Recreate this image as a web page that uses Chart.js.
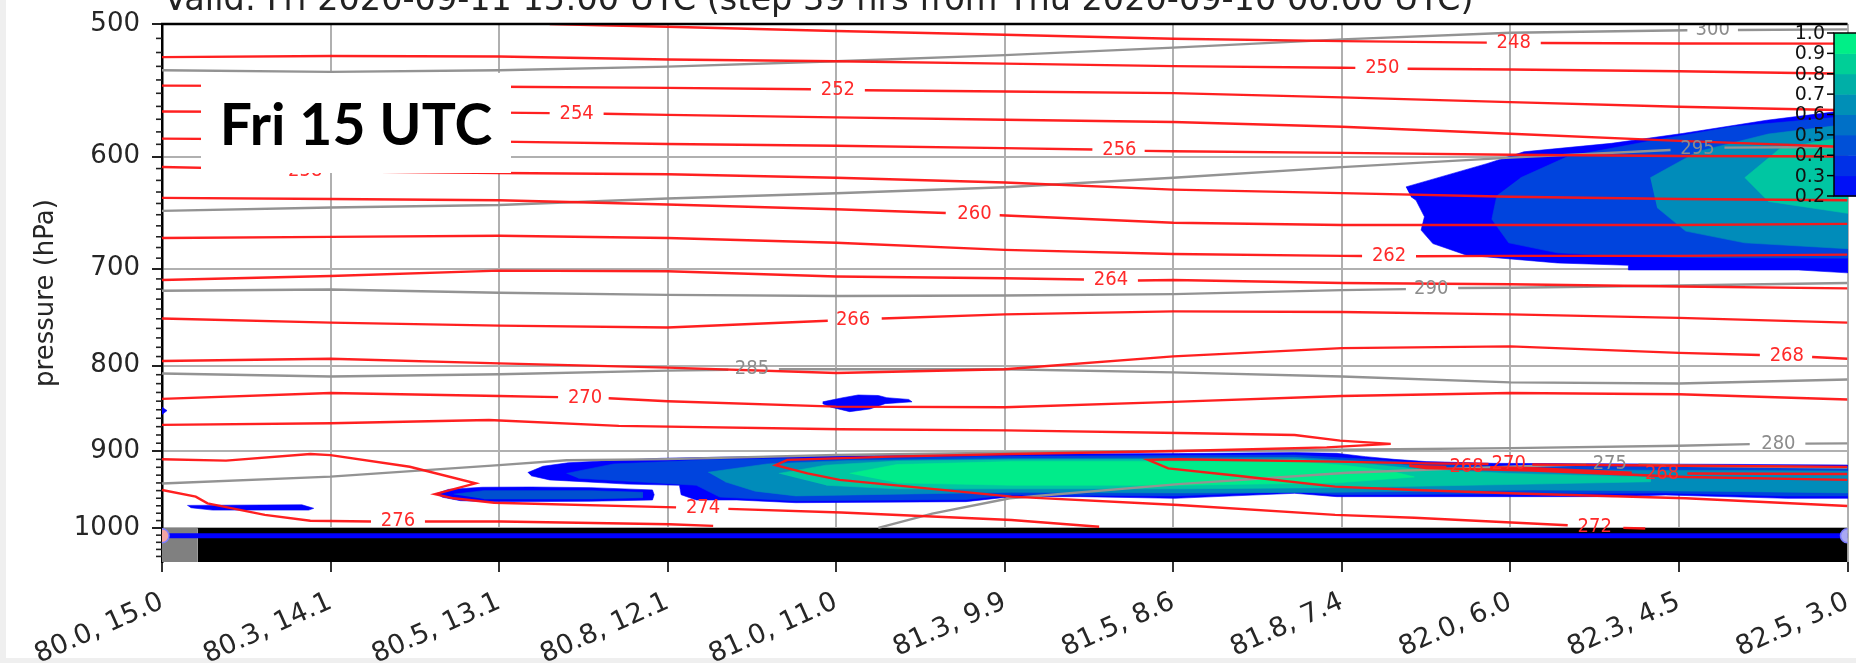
<!DOCTYPE html>
<html><head><meta charset="utf-8">
<script src="https://cdn.jsdelivr.net/npm/chart.js@4.4.1/dist/chart.umd.min.js"></script>
<style>
html,body{margin:0;padding:0;background:#fff;overflow:hidden;}
#wrap{position:relative;width:1856px;height:663px;overflow:hidden;}
#c{position:absolute;left:0;top:0;width:1856px;height:663px;}
#fri{position:absolute;left:201px;top:73px;width:310px;height:100px;background:#fff;color:#000;
 font-family:Lato,"Open Sans",sans-serif;font-weight:bold;font-size:57px;line-height:100px;text-align:center;}
</style></head><body>
<div id="wrap"><canvas id="c" width="1856" height="663"></canvas><div id="fri">Fri 15 UTC</div></div>
<script>
// ---------- axes ----------
const xLabels = ['80.0, 15.0','80.3, 14.1','80.5, 13.1','80.8, 12.1','81.0, 11.0','81.3, 9.9','81.5, 8.6','81.8, 7.4','82.0, 6.0','82.3, 4.5','82.5, 3.0'];
const yTicks = [500, 600, 700, 800, 900, 1000];
const cbTicks = [1.0, 0.9, 0.8, 0.7, 0.6, 0.5, 0.4, 0.3, 0.2];
const titleText = 'Valid: Fri 2020-09-11 15:00 UTC (step 39 hrs from Thu 2020-09-10 00:00 UTC)';

// ---------- isotherms (K): [section position, pressure hPa]; null = gap for inline label ----------
const t248 = [[2.3,500],[2.6,500.9],[3,501.9],[4,504.8],[5,507.5],[6,510.2],[7,511.9],[7.86,513.0],null,[8.18,513.2],[9,513.6],[10,513.7]];
const t250 = [[0,523.3],[1,522.5],[2,522.9],[3,525.0],[4,526.3],[5,528.0],[6,529.8],[7,531.0],[7.08,531.1],null,[7.39,531.7],[8,532.3],[9,533.6],[10,535.4]];
const t252 = [[0,544.2],[1,544.6],[2,545.1],[3,545.9],[3.85,547.0],null,[4.17,547.7],[5,548.6],[6,549.9],[7,553.1],[8,556.7],[9,560.3],[10,563.0]];
const t254 = [[0,563.9],[1,564.4],[2,564.8],[2.30,565.2],null,[2.62,565.7],[3,566.6],[4,568.5],[5,570.4],[6,572.2],[7,575.9],[8,581.5],[9,587.2],[10,592.2]];
const t256 = [[0,585.4],[1,586.3],[2,587.8],[3,589.7],[4,591.1],[5,593.1],[5.52,594.2],null,[5.83,595.3],[6,595.6],[7,597.0],[8,598.5],[9,599.5],[10,600.0]];
const t258 = [[0,608.7],[0.69,610.7],null,[1.01,612.2],[2,613.7],[3,614.8],[4,617.8],[5,621.8],[6,627.9],[7,631.0],[8,634.1],[9,636.1],[10,637.2]];
const t260 = [[0,635.1],[1,636.1],[2,637.2],[3,640.9],[4,645.1],[4.65,648.5],null,[4.97,650.4],[6,657.2],[7,659.3],[8,659.3],[9,659.3],[10,658.2]];
const t262 = [[0,671.2],[1,670.1],[2,669.0],[3,671.2],[4,675.6],[5,682.2],[6,686.1],[7,687.8],[7.12,688.0],null,[7.44,688.2],[8,687.8],[9,687.8],[10,686.7]];
const t264 = [[0,711.1],[1,707.1],[2,701.9],[3,702.5],[4,707.7],[5,709.4],[5.47,710.6],null,[5.79,711.5],[6,711.1],[7,714.0],[8,715.2],[9,717.5],[10,719.3]];
const t266 = [[0,749.7],[1,754.0],[2,757.1],[3,759.0],[3.95,752.1],null,[4.27,749.7],[5,745.5],[6,742.4],[7,743.0],[8,745.5],[9,749.1],[10,754.0]];
const t268 = [[0,794.9],[1,792.4],[2,797.5],[3,802.1],[4,808.0],[5,804.0],[6,789.8],[7,780.9],[8,779.0],[9,786.0],[9.48,788.4],null,[9.79,790.5],[10,792.4]];
const t270 = [[0,837.4],[1,830.6],[2,834.0],[2.35,835.4],null,[2.65,836.7],[3,840.1],[4,846.3],[5,847.0],[6,840.8],[7,834.0],[8,830.6],[9,832.0],[10,838.1]];
const t272 = [[0,867.9],[1,866.0],[1.94,862.0],[2.71,869.0],[4.03,873.0],[5.01,874.4],[6.13,877.9],[6.72,880.0],[6.99,886.9],[7.29,890.8],[6.91,895.1],[6.03,899.6],[5.04,903.4],[4.32,906.6],[3.71,910.7],[3.64,917.3],[3.83,927.8],[4.02,936.1],[5.04,957.9],[6.03,969.0],[6.96,982.2],[7.43,986.2],[8.34,996.4],null,[8.67,1000],[8.80,1000.8]];
const t274 = [[0,909.9],[0.38,911.6],[0.88,903.4],[1,904.7],[1.47,919.3],[1.86,940.6],[1.62,954.5],[1.73,960.1],[1.97,965.9],[3.05,972.2],null,[3.36,974.2],[4.03,979.0],[5.04,989.1],[5.56,998.4]];
const t276 = [[0,949.1],[0.2,957.9],[0.27,966.8],[0.61,982.2],[0.88,990.2],[1.24,991.3],null,[1.56,991.3],[2.01,991.3],[3.01,995.0],[3.27,997.2]];
const t270core = [[10,919.5],[9.04,918.0],[8.13,916.5],null,[7.87,915.8],[7.50,915.0],[6.96,912.8],[6.03,909.9],[5.85,910.7],[5.97,921.3],[6.38,930.8],[6.96,944.8],[7.43,949.1],[8.04,953.8],[9.04,960.1],[10,970.3]];
const t268core = [[10,928.5],[9.05,927.8],null,[8.72,927.0],[8.13,921.0],[7.88,920.0],null,[7.62,919.5],[7.50,918.8],[7.40,918.0],[7.50,921.0],[8.13,924.0],[9.04,932.3],[10,936.1]];
const tempLabels = [['248',8.02,513.1],['250',7.24,531.4],['252',4.01,547.3],['254',2.46,565.4],['256',5.68,594.8],['258',0.85,611.5],['260',4.82,649.4],['262',7.28,688.1],['264',5.63,711.0],['266',4.10,751.0],['268',9.64,789.5],['270',2.51,835.8],['272',8.50,998.0],['274',3.21,973.0],['276',1.40,990.0],['270',7.99,915.5],['268',7.74,919.7],['268',8.90,928.0]];

// ---------- potential temperature (K) ----------
const th300 = [[0,532.8],[1,534.0],[2,532.8],[3,530.2],[4,526.3],[5,521.9],[6,516.5],[7,510.7],[8,506.1],[9.05,504.3],null,[9.35,504.1],[10,503.7]];
const th295 = [[0,646.6],[1,643.5],[2,641.4],[3,635.7],[4,631.1],[5,625.9],[6,617.8],[7,608.8],[8,600.9],[8.95,594.6],null,[9.27,592.7],[10,592.2]];
const th290 = [[0,721.6],[1,720.4],[2,723.7],[3,725.7],[4,726.9],[5,726.3],[6,725.0],[7,721.0],[7.38,720.0],null,[7.69,718.9],[8,718.7],[9,716.4],[10,714.0]];
const th285 = [[0,808.7],[1,812.0],[2,809.4],[3,805.4],[3.36,804.5],null,[3.66,804.0],[4,804.0],[5,804.0],[6,807.4],[7,812.0],[8,818.6],[9,819.9],[10,815.3]];
const th280 = [[0,940.7],[1,931.9],[2,917.2],[2.40,911.2],[3,909.7],[4,904.6],[5,901.7],[6,899.6],[7,898.1],[8,896.0],[9,893.1],[9.42,891.1],null,[9.75,890.5],[10,890.2]];
const th275 = [[4.25,1000],[4.57,980.5],[5.03,960.1],[6.03,941.5],[7.03,927.0],[8.04,918.8],[8.45,916.5],null,[8.76,916.5],[9.04,918.0],[10,920.3]];
const thetaLabels = [['300',9.2,504.2],['295',9.11,593.6],['290',7.53,719.4],['285',3.50,803.5],['280',9.59,890.8],['275',8.59,915.0]];

// ---------- cloud fraction regions (outline of each level) ----------
const upper02 = [[7.38,625.6],[7.52,619.8],[7.86,605.9],[8.08,596.1],[8.60,589.2],[9.02,581.3],[9.52,570.8],[9.84,565.6],[10,563.0],[10,704.1],[9.71,701.3],[8.70,701.3],[8.70,696.8],[8.28,694.6],[7.74,687.2],[7.54,676.3],[7.47,663.9],[7.49,651.8],[7.44,637.2],[7.41,634.1]];
const upper04 = [[8.06,617.8],[8.34,600.0],[8.83,587.3],[9.32,575.9],[10,567.7],[10,690.0],[9.18,689.5],[8.70,688.5],[8.28,685.0],[7.99,675.6],[7.89,654.0],[7.92,633.0]];
const upper06 = [[8.83,617.8],[9.11,596.0],[9.53,581.7],[10,574.0],[10,681.1],[9.39,675.6],[9.04,664.8],[8.87,643.6]];
const upper08 = [[9.39,617.8],[9.60,593.4],[10,583.6],[10,648.7],[9.53,638.2]];
const band02 = [[2.17,926.7],[2.26,918.7],[2.41,914.3],[2.75,910.6],[2.96,908.7],[3.48,906.6],[4.03,905.5],[5.04,903.4],[6.03,902.8],[6.72,901.6],[6.97,902.5],[7.14,906.6],[7.31,910.0],[7.50,912.8],[7.90,915.0],[9.20,916.2],[10,917.1],[10,960.1],[9.64,960.1],[8.92,955.7],[8.61,957.9],[6.97,957.9],[6.72,953.5],[6.01,960.1],[5.45,957.9],[5.04,957.9],[4.77,964.5],[3.76,965.9],[3.41,962.3],[3.17,962.3],[3.08,955.4],[3.07,943.0],[2.76,941.5],[2.30,936.1],[2.19,930.8]];
const band04 = [[2.40,927.8],[2.68,915.8],[3.24,910.6],[3.94,908.4],[5.04,906.2],[6.72,904.7],[7.15,909.9],[7.50,915.8],[7.92,918.8],[9.18,919.5],[10,920.3],[10,956.9],[9.64,956.9],[8.92,953.0],[6.97,955.4],[6.72,950.7],[6.01,956.9],[5.04,955.4],[4.77,961.7],[3.76,963.2],[3.31,958.5],[3.17,943.0],[2.75,937.6],[2.47,933.9]];
const band06 = [[3.24,926.3],[3.59,915.8],[4.08,911.3],[5.04,909.1],[6.72,907.6],[7.15,912.8],[7.50,919.5],[7.99,923.3],[9.18,924.0],[10,924.8],[10,953.0],[9.18,950.7],[8.13,949.1],[6.97,952.2],[6.03,953.0],[5.04,952.2],[4.36,954.6],[3.76,956.9],[3.52,950.7],[3.34,938.5]];
const band08 = [[3.66,927.8],[3.94,917.3],[4.36,912.1],[5.04,910.6],[6.72,909.9],[7.08,914.3],[7.43,921.8],[7.99,927.8],[8.83,932.3],[8.83,938.5],[8.13,941.5],[6.97,946.1],[6.03,947.7],[5.04,947.7],[4.36,947.7],[3.94,943.0]];
const band09 = [[4.08,927.8],[4.36,916.5],[5.04,912.8],[6.72,912.8],[7.01,917.3],[7.29,924.8],[7.43,932.3],[6.97,939.9],[6.03,943.0],[5.04,943.0],[4.36,939.9]];
const lobe02 = [[1.62,954.5],[1.70,948.4],[1.90,945.6],[2.19,945.3],[2.54,946.1],[2.91,949.1],[2.92,955.4],[2.91,962.3],[2.54,964.0],[1.98,964.8],[1.77,963.2],[1.66,958.5]];
const lobe04 = [[1.73,954.6],[1.91,950.0],[2.54,950.0],[2.85,952.2],[2.85,959.3],[2.54,960.9],[1.91,960.9]];
const patch02 = [[0.15,969.5],[0.83,968.7],[0.90,973.4],[0.87,975.8],[0.30,975.8],[0.17,972.6]];
const blob02 = [[3.92,840.8],[4.04,836.0],[4.13,832.9],[4.25,833.5],[4.30,836.0],[4.43,838.0],[4.45,840.8],[4.29,842.9],[4.20,849.1],[4.08,852.2],[3.97,847.0],[3.92,842.9]];
const dot02 = [[0,847.0],[0.03,851.0],[0,855.5]];

// ---------- ground / surface ----------
const groundTop = [[0.21,1000],[10,1000]];
const groundBox = [[0,1000],[0.21,1000]];
const surfaceP = [[0,1010.8],[10,1010.8]];

const levelColors = {c02:'#0000ff', c04:'#0044dd', c06:'#008cba', c08:'#00c6a2', c09:'#00ec8a'};

// ---------- build datasets ----------
function toPts(arr){
  return arr.map((pt,i)=> pt ? {x:pt[0], y:pt[1]} : {x:(arr[i-1][0]+arr[i+1][0])/2, y:null});
}
function lineDs(arr, color, w, order){
  return {data:toPts(arr), borderColor:color, borderWidth:w, pointRadius:0, fill:false, tension:0, order};
}
function polyDs(arr, color, order){
  return {data:toPts(arr), borderColor:color, borderWidth:0.6, backgroundColor:color, pointRadius:0, fill:'shape', tension:0, order, clip:false};
}
const RED = 'rgba(255,20,20,0.95)', GRAY = '#939393', LW = 2.4;
const datasets = [
  polyDs(upper02, levelColors.c02, 200), polyDs(upper04, levelColors.c04, 199), polyDs(upper06, levelColors.c06, 198), polyDs(upper08, levelColors.c08, 197),
  polyDs(band02, levelColors.c02, 190), polyDs(band04, levelColors.c04, 189), polyDs(band06, levelColors.c06, 188), polyDs(band08, levelColors.c08, 187), polyDs(band09, levelColors.c09, 186),
  polyDs(lobe02, levelColors.c02, 185), polyDs(lobe04, '#0050d0', 184),
  polyDs(patch02, levelColors.c02, 183), polyDs(blob02, levelColors.c02, 182), polyDs(dot02, levelColors.c02, 181),
  {data:toPts(groundTop), borderColor:'#000', borderWidth:0, backgroundColor:'#000', pointRadius:0, fill:'start', order:150},
  {data:toPts(groundBox), borderColor:'#808080', borderWidth:0, backgroundColor:'#808080', pointRadius:0, fill:'start', order:149},
  lineDs(th300, GRAY, LW, 20), lineDs(th295, GRAY, LW, 20), lineDs(th290, GRAY, LW, 20), lineDs(th285, GRAY, LW, 20), lineDs(th280, GRAY, LW, 20), lineDs(th275, GRAY, LW, 20),
  lineDs(t248, RED, LW, 10), lineDs(t250, RED, LW, 10), lineDs(t252, RED, LW, 10), lineDs(t254, RED, LW, 10), lineDs(t256, RED, LW, 10),
  lineDs(t258, RED, LW, 10), lineDs(t260, RED, LW, 10), lineDs(t262, RED, LW, 10), lineDs(t264, RED, LW, 10), lineDs(t266, RED, LW, 10),
  lineDs(t268, RED, LW, 10), lineDs(t270, RED, LW, 10), lineDs(t272, RED, LW, 10), lineDs(t274, RED, LW, 10), lineDs(t276, RED, LW, 10),
  lineDs(t270core, RED, LW, 10), lineDs(t268core, RED, LW, 10),
  {data:toPts(surfaceP), borderColor:'#0000ff', borderWidth:5, pointRadius:[7,7], pointBackgroundColor:['#f4a4a4','#a9a9f2'], pointBorderColor:['#7d7dff','#7d7dff'], pointBorderWidth:1.5, fill:false, order:5}
];

// ---------- plugins ----------
const bgPlugin = {
  id:'bg',
  beforeDraw(chart){
    const {ctx, width, height} = chart;
    ctx.save();
    ctx.fillStyle = '#fff'; ctx.fillRect(0,0,width,height);
    ctx.fillStyle = '#efefef'; ctx.fillRect(0,0,6,height); ctx.fillRect(0,height-5,width,5);
    ctx.restore();
  }
};
const labelPlugin = {
  id:'contourLabels',
  afterDatasetsDraw(chart){
    const {ctx, chartArea:a, scales:{x,y}} = chart;
    ctx.save();
    ctx.beginPath(); ctx.rect(a.left, a.top, a.right-a.left, a.bottom-a.top); ctx.clip();
    ctx.font = '20px "DejaVu Sans Condensed", "DejaVu Sans", sans-serif';
    ctx.textAlign = 'center'; ctx.textBaseline = 'middle';
    ctx.fillStyle = '#ff2a2a';
    tempLabels.forEach(([t,xi,p]) => ctx.fillText(t, x.getPixelForValue(xi), y.getPixelForValue(p)));
    ctx.fillStyle = '#8c8c8c';
    thetaLabels.forEach(([t,xi,p]) => ctx.fillText(t, x.getPixelForValue(xi), y.getPixelForValue(p)));
    ctx.restore();
  }
};
const decoPlugin = {
  id:'deco',
  afterDraw(chart){
    const {ctx, chartArea:a, scales:{y}} = chart;
    ctx.save();
    ctx.strokeStyle = '#000'; ctx.lineWidth = 2.5;
    ctx.beginPath(); ctx.moveTo(a.left-1, a.top); ctx.lineTo(a.right, a.top); ctx.stroke();
    ctx.strokeStyle = '#222'; ctx.lineWidth = 1.6;
    for (let v = 510; v <= 1040; v += 10) {
      if (v % 100 === 0) continue;
      const py = y.getPixelForValue(v);
      ctx.beginPath(); ctx.moveTo(a.left-6, py); ctx.lineTo(a.left, py); ctx.stroke();
    }
    const cx = 1834, cw = 24, cy0 = 33, cy1 = 196;
    const n = 8;
    for (let i = 0; i < n; i++) {
      const t = (i + 0.5) / n;
      const g = Math.round(255 * t), b = Math.round(255 * (1 - 0.5 * t));
      ctx.fillStyle = `rgb(0,${g},${b})`;
      const yTop = cy1 - (i + 1) * (cy1 - cy0) / n, yBot = cy1 - i * (cy1 - cy0) / n;
      ctx.fillRect(cx, yTop, cw, yBot - yTop + 0.5);
    }
    ctx.strokeStyle = '#000'; ctx.lineWidth = 1.5;
    ctx.strokeRect(cx, cy0, cw, cy1 - cy0);
    ctx.font = '19px "DejaVu Sans", sans-serif';
    ctx.fillStyle = '#111'; ctx.textAlign = 'right'; ctx.textBaseline = 'middle';
    cbTicks.forEach(v => {
      const py = cy0 + (1.0 - v) / 0.8 * (cy1 - cy0);
      ctx.beginPath(); ctx.moveTo(cx - 7, py); ctx.lineTo(cx, py); ctx.stroke();
      ctx.fillText(v.toFixed(1), cx - 9, py + 1);
    });
    ctx.font = '33.5px "DejaVu Sans", sans-serif';
    ctx.fillStyle = '#222'; ctx.textAlign = 'left'; ctx.textBaseline = 'alphabetic';
    ctx.fillText(titleText, 164, 10);
    ctx.restore();
  }
};

new Chart(document.getElementById('c'), {
  type:'line',
  data:{datasets},
  plugins:[bgPlugin, labelPlugin, decoPlugin],
  options:{
    responsive:false, animation:false, devicePixelRatio:1,
    layout:{padding:{top:24,left:0,right:0,bottom:0}},
    plugins:{legend:{display:false}, tooltip:{enabled:false}, title:{display:false}},
    scales:{
      x:{
        type:'linear', min:0, max:10, position:'bottom', z:1,
        afterFit(s){ s.height = 101; s.paddingLeft = 0; s.paddingRight = 0; },
        ticks:{stepSize:1, autoSkip:false, minRotation:24, maxRotation:24, padding:14,
          font:{family:'"DejaVu Sans", sans-serif', size:27}, color:'#262626',
          callback:(v)=> xLabels[v] ?? ''},
        grid:{color:'#b0b0b0', lineWidth:2, tickLength:10, tickColor:'#333', tickWidth:2},
        border:{display:false}
      },
      y:{
        type:'logarithmic', reverse:true, min:500, max:1048, position:'left', z:1,
        afterBuildTicks(s){ s.ticks = yTicks.map(v => ({value:v})); },
        afterFit(s){ s.width = 162; s.paddingTop = 0; s.paddingBottom = 0; },
        ticks:{padding:12, font:{family:'"DejaVu Sans", sans-serif', size:26}, color:'#262626', callback:(v)=> String(v)},
        grid:{color:'#b0b0b0', lineWidth:2, tickLength:10, tickColor:'#222', tickWidth:2},
        border:{display:true, color:'#000', width:2.5},
        title:{display:true, text:'pressure (hPa)', font:{family:'"DejaVu Sans", sans-serif', size:26}, color:'#262626', padding:{top:31, bottom:0}}
      }
    }
  }
});
</script>
</body></html>
